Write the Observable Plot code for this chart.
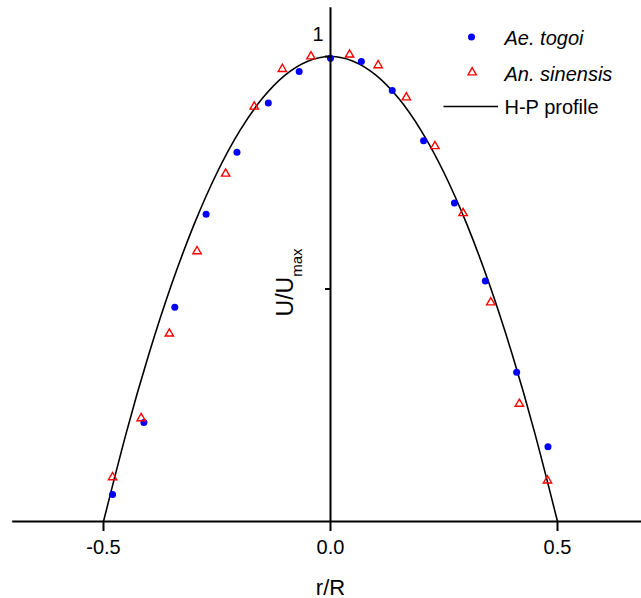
<!DOCTYPE html>
<html>
<head>
<meta charset="utf-8">
<script src="https://cdn.jsdelivr.net/npm/d3@7"></script>
<script src="https://cdn.jsdelivr.net/npm/@observablehq/plot@0.6"></script>
<style>
  body { margin: 0; background: #fff; }
  #chart { width: 641px; height: 598px; }
</style>
</head>
<body>
<div id="chart"></div>
<script>
// Ae. togoi (blue dots)
const aeTogoiR = [-0.480, -0.411, -0.343, -0.274, -0.206, -0.137, -0.069, 0.000, 0.068, 0.136, 0.205, 0.273, 0.341, 0.410, 0.479];
const aeTogoiU = [0.058, 0.213, 0.461, 0.661, 0.794, 0.900, 0.968, 0.996, 0.989, 0.927, 0.819, 0.685, 0.517, 0.321, 0.161];
// An. sinensis (red open triangles)
const anSinensisR = [-0.480, -0.417, -0.355, -0.294, -0.231, -0.168, -0.106, -0.043, 0.042, 0.105, 0.167, 0.230, 0.292, 0.353, 0.416, 0.478];
const anSinensisU = [0.095, 0.222, 0.404, 0.581, 0.748, 0.892, 0.973, 1.000, 1.004, 0.981, 0.912, 0.807, 0.663, 0.471, 0.253, 0.088];
// H-P profile curve
const hpR = [-0.50, -0.45, -0.40, -0.35, -0.30, -0.25, -0.20, -0.15, -0.10, -0.05, 0.00, 0.05, 0.10, 0.15, 0.20, 0.25, 0.30, 0.35, 0.40, 0.45, 0.50];
const hpU = [0.00, 0.19, 0.36, 0.51, 0.64, 0.75, 0.84, 0.91, 0.96, 0.99, 1.00, 0.99, 0.96, 0.91, 0.84, 0.75, 0.64, 0.51, 0.36, 0.19, 0.00];

// axes
const xTicks = [-0.5, 0.0, 0.5];
const yTicks = [0.5, 1];
const yTickLabels = [1];
const xAxisExtent = [-0.7, 0.7];
const yAxisTop = 1.105;

// legend and titles
const legendLabels = ["Ae. togoi", "An. sinensis", "H-P profile"];
const xTitle = "r/R";
const yTitle = "U/U";
const yTitleSub = "max";

const ae = aeTogoiR.map((r, i) => ({r, u: aeTogoiU[i]}));
const an = anSinensisR.map((r, i) => ({r, u: anSinensisU[i]}));
const hp = hpR.map((r, i) => ({r, u: hpU[i]}));

const font = "'Liberation Sans', Arial, Helvetica, sans-serif";
const blue = "#0000ff";
const red = "#ff0000";

const plot = Plot.plot({
  width: 641,
  height: 598,
  marginLeft: 103,
  marginRight: 84,
  marginTop: 56,
  marginBottom: 77,
  x: {domain: [-0.5, 0.5], axis: null, label: null},
  y: {domain: [0, 1], axis: null, label: null},
  style: {fontFamily: font, background: "#fff", color: "#000", overflow: "visible"},
  marks: [
    Plot.line(hp, {x: "r", y: "u", curve: "natural", stroke: "#000", strokeWidth: 1.6}),
    Plot.dot(ae, {x: "r", y: "u", r: 3.5, fill: blue, stroke: null}),
    Plot.dot(an, {x: "r", y: "u", symbol: "triangle", r: 3.1, fill: "none", stroke: red, strokeWidth: 1.4}),
    // axis lines
    Plot.ruleY([0], {x1: xAxisExtent[0], x2: xAxisExtent[1], stroke: "#000", strokeWidth: 2}),
    Plot.ruleX([0], {y1: 0, y2: yAxisTop, stroke: "#000", strokeWidth: 2}),
    // x ticks + labels
    Plot.axisX(xTicks, {tickSize: 10, tickPadding: 8, fontSize: 20, tickFormat: d => d.toFixed(1), strokeWidth: 2, label: null}),
    // y ticks
    Plot.ruleY(yTicks, {y: d => d, x1: 0, x2: 0, insetLeft: -5, stroke: "#000", strokeWidth: 2}),
    Plot.text(yTickLabels, {x: 0, y: d => d, text: d => String(d), dx: -7, dy: -22, textAnchor: "end", lineAnchor: "middle", fontSize: 20}),
    // axis titles
    Plot.text([xTitle], {frameAnchor: "bottom", dy: 66, lineAnchor: "middle", fontSize: 22}),
    Plot.text([yTitle], {frameAnchor: "left", dx: 189, dy: -6.5, rotate: -90, lineAnchor: "bottom", textAnchor: "middle", fontSize: 23, ariaLabel: () => "y-title"}),
    // legend
    Plot.dot([legendLabels[0]], {frameAnchor: "top-left", dx: 368, dy: -19.5, r: 3.5, fill: blue, stroke: null}),
    Plot.text([legendLabels[0]], {frameAnchor: "top-left", dx: 401, dy: -18, textAnchor: "start", lineAnchor: "middle", fontSize: 20, fontStyle: "italic"}),
    Plot.dot([legendLabels[1]], {frameAnchor: "top-left", dx: 368.7, dy: 16, symbol: "triangle", r: 3.1, fill: "none", stroke: red, strokeWidth: 1.4}),
    Plot.text([legendLabels[1]], {frameAnchor: "top-left", dx: 401, dy: 18, textAnchor: "start", lineAnchor: "middle", fontSize: 20, fontStyle: "italic"}),
    Plot.ruleY([legendLabels[2]], {y: null, insetLeft: 340.5, insetRight: 59, dy: -182.5, stroke: "#000", strokeWidth: 1.6}),
    Plot.text([legendLabels[2]], {frameAnchor: "top-left", dx: 401, dy: 51, textAnchor: "start", lineAnchor: "middle", fontSize: 20})
  ]
});

document.getElementById("chart").appendChild(plot);

// subscript for the y title
d3.select(plot).selectAll("text").each(function () {
  if (this.textContent === yTitle) {
    const t = d3.select(this);
    t.text(null);
    t.append("tspan").text(yTitle);
    t.append("tspan").attr("font-size", 15).attr("dy", 9).text(yTitleSub);
  }
});
</script>
</body>
</html>
